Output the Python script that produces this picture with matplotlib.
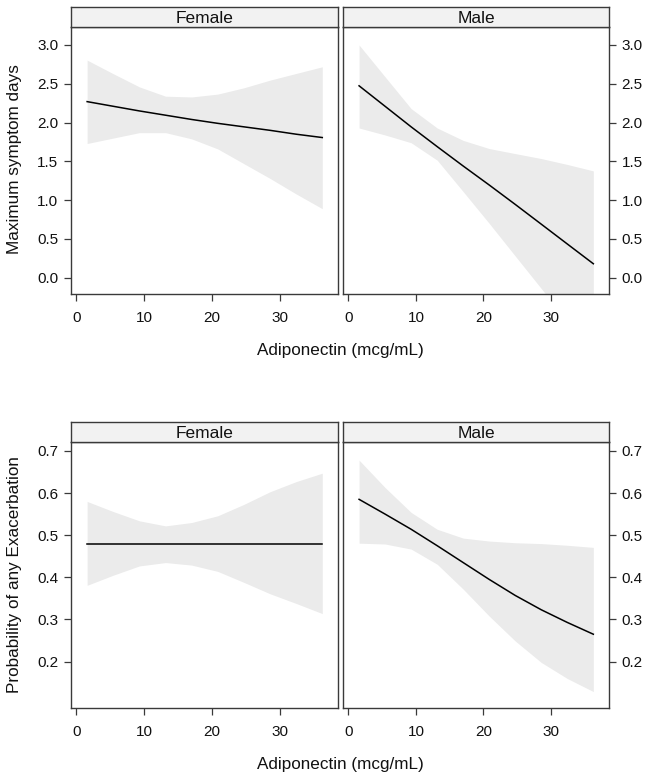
import matplotlib
matplotlib.use("Agg")
import matplotlib.pyplot as plt

plt.rcParams["font.family"] = ["Liberation Sans", "DejaVu Sans"]

# Adiponectin grid (mcg/mL) used by the effect curves
adipo = [1.58, 5.43, 9.29, 13.15, 17.0, 20.86, 24.71, 28.57, 32.42, 36.28]

# Maximum symptom days
days_female_fit = [2.27, 2.21, 2.15, 2.095, 2.04, 1.99, 1.945, 1.90, 1.85, 1.807]
days_female_hi = [2.805, 2.63, 2.46, 2.34, 2.33, 2.367, 2.448, 2.547, 2.633, 2.719]
days_female_lo = [1.73, 1.80, 1.87, 1.87, 1.79, 1.66, 1.47, 1.28, 1.08, 0.89]

days_male_fit = [2.474, 2.21, 1.945, 1.69, 1.44, 1.195, 0.945, 0.69, 0.435, 0.18]
days_male_hi = [3.0, 2.59, 2.18, 1.93, 1.77, 1.665, 1.60, 1.536, 1.46, 1.377]
days_male_lo = [1.93, 1.84, 1.74, 1.515, 1.11, 0.70, 0.28, -0.14, -0.56, -0.98]

# Probability of any exacerbation
prob_female_fit = [0.4785] * 10
prob_female_hi = [0.580, 0.556, 0.534, 0.522, 0.530, 0.546, 0.573, 0.603, 0.627, 0.647]
prob_female_lo = [0.381, 0.405, 0.427, 0.435, 0.429, 0.414, 0.388, 0.361, 0.338, 0.314]

prob_male_fit = [0.585, 0.550, 0.514, 0.475, 0.435, 0.395, 0.357, 0.323, 0.293, 0.265]
prob_male_hi = [0.678, 0.613, 0.554, 0.514, 0.493, 0.486, 0.482, 0.480, 0.476, 0.471]
prob_male_lo = [0.481, 0.479, 0.467, 0.431, 0.372, 0.308, 0.249, 0.198, 0.160, 0.129]

panels = ["Female", "Male"]
x_ticks = [0, 10, 20, 30]
days_ticks = [0.0, 0.5, 1.0, 1.5, 2.0, 2.5, 3.0]
prob_ticks = [0.2, 0.3, 0.4, 0.5, 0.6, 0.7]

W, H = 652, 779
FRAME = "#3a3a3a"
BAND = "#ebebeb"
STRIP = "#f2f2f2"
TXT = "#111111"


def px_axes(fig, left, top, right, bottom):
    return fig.add_axes([left / W, 1 - bottom / H, (right - left) / W, (bottom - top) / H])


def draw_panel(fig, box, strip_top, title, fit, lo, hi, ylim, yticks, side):
    left, top, right, bottom = box
    ax = px_axes(fig, left, top, right, bottom)
    ax.fill_between(adipo, lo, hi, color=BAND, linewidth=0)
    ax.plot(adipo, fit, color="black", linewidth=1.1)
    ax.set_xlim(-0.8, 38.6)
    ax.set_ylim(*ylim)
    ax.set_xticks(x_ticks)
    ax.set_yticks(yticks)
    ax.set_yticklabels(["{:.1f}".format(v) for v in yticks])
    for s in ax.spines.values():
        s.set_color(FRAME)
        s.set_linewidth(1.0)
    ax.tick_params(axis="both", direction="out", length=5, width=0.9,
                   color=FRAME, labelsize=11, labelcolor=TXT)
    ax.tick_params(axis="x", pad=7)
    ax.tick_params(axis="y", pad=4)
    if side == "right":
        ax.yaxis.tick_right()

    sax = px_axes(fig, left, strip_top, right, top)
    sax.set_facecolor(STRIP)
    sax.set_xticks([])
    sax.set_yticks([])
    for s in sax.spines.values():
        s.set_color(FRAME)
        s.set_linewidth(1.0)
    sax.text(0.5, 0.42, title, ha="center", va="center", fontsize=12.5,
             transform=sax.transAxes, color=TXT)
    return ax


fig = plt.figure(figsize=(W / 100, H / 100), dpi=100)

cols = [(71, 338), (343, 609)]

# top row: maximum symptom days
top_fits = [(days_female_fit, days_female_lo, days_female_hi),
            (days_male_fit, days_male_lo, days_male_hi)]
for i, name in enumerate(panels):
    fit, lo, hi = top_fits[i]
    draw_panel(fig, (cols[i][0], 27, cols[i][1], 294), 7, name, fit, lo, hi,
               (-0.21, 3.232), days_ticks, "left" if i == 0 else "right")

# bottom row: probability of any exacerbation
bot_fits = [(prob_female_fit, prob_female_lo, prob_female_hi),
            (prob_male_fit, prob_male_lo, prob_male_hi)]
for i, name in enumerate(panels):
    fit, lo, hi = bot_fits[i]
    draw_panel(fig, (cols[i][0], 442, cols[i][1], 708), 422, name, fit, lo, hi,
               (0.090, 0.721), prob_ticks, "left" if i == 0 else "right")

fig.text(340 / W, 1 - 350 / H, "Adiponectin (mcg/mL)", ha="center", va="center",
         fontsize=12.3, color=TXT)
fig.text(340 / W, 1 - 764 / H, "Adiponectin (mcg/mL)", ha="center", va="center",
         fontsize=12.3, color=TXT)
fig.text(15 / W, 1 - 159 / H, "Maximum symptom days", ha="center", va="center",
         rotation=90, fontsize=12.3, color=TXT)
fig.text(15 / W, 1 - 575 / H, "Probability of any Exacerbation", ha="center", va="center",
         rotation=90, fontsize=12.3, color=TXT)

fig.savefig("out.png", dpi=100)
